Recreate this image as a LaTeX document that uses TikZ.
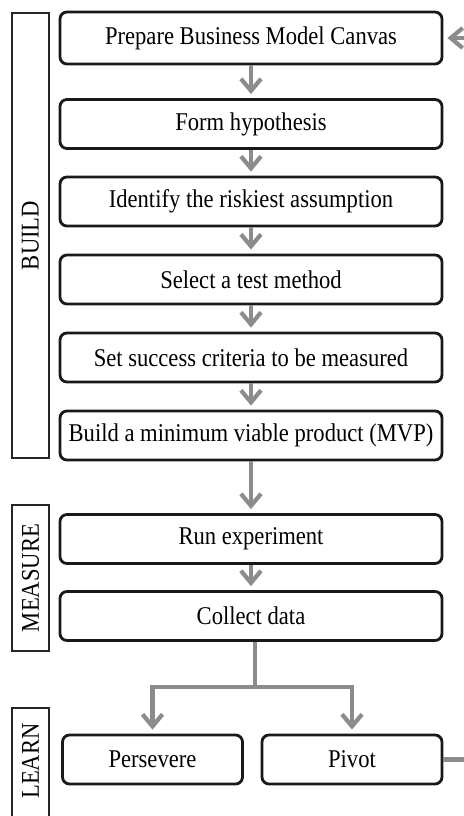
\documentclass[tikz,border=0pt]{standalone}
\usepackage{fontspec}
\setmainfont{Liberation Serif}
\usetikzlibrary{arrows.meta}
\newcommand{\tall}[1]{\scalebox{1}[1.13]{#1}}
\begin{document}
\begin{tikzpicture}[x=0.5pt,y=-0.5pt,
  every node/.style={font=\fontsize{11.3}{13}\selectfont, inner sep=0pt},
  stepbox/.style={draw=black!90, line width=1.4pt, rounded corners=3.5pt, minimum width=191pt, minimum height=24.5pt},
  smallbox/.style={stepbox, minimum width=90pt},
  sidebox/.style={draw=black!85, line width=0.8pt, rotate=90, minimum height=18.5pt},
  conn/.style={draw=black!45, line width=2.1pt},
  arr/.style={conn, -{Straight Barb[length=6pt,width=10pt,line width=2.1pt]}, shorten >=2pt}
]
\useasboundingbox (0,0) rectangle (464,816);
\clip (0,0) rectangle (464,816);

\node[stepbox, minimum height=26pt] (prep) at (251,38) {\tall{Prepare Business Model Canvas}};
\node[stepbox] (form) at (251,124) {\tall{Form hypothesis}};
\node[stepbox] (ident) at (251,201.5) {\tall{Identify the riskiest assumption}};
\node[stepbox] (sel) at (251,279.5) {\tall{Select a test method}};
\node[stepbox] (succ) at (251,357.5) {\tall{Set success criteria to be measured}};
\node[stepbox] (mvp) at (251,435.5) {\tall{Build a minimum viable product (MVP)}};
\node[stepbox] (run) at (251,539) {\tall{Run experiment}};
\node[stepbox] (coll) at (251,616) {\tall{Collect data}};
\node[smallbox] (pers) at (152.5,759.5) {\tall{Persevere}};
\node[smallbox] (pivot) at (352,759.5) {\tall{Pivot}};

\node[sidebox, minimum width=222.5pt] (build) at (30.5,235.5) {\tall{BUILD}};
\node[sidebox, minimum width=73pt] (measure) at (30.5,578) {\tall{MEASURE}};
\draw[draw=black!85, line width=0.8pt] (12,708) rectangle (49,840);
\node[rotate=90] (learn) at (30.5,761) {\tall{LEARN}};

\draw[arr] (prep) -- (form);
\draw[arr] (form) -- (ident);
\draw[arr] (ident) -- (sel);
\draw[arr] (sel) -- (succ);
\draw[arr] (succ) -- (mvp);
\draw[arr] (mvp) -- (run);
\draw[arr] (run) -- (coll);

\coordinate (j) at (255,687);
\draw[conn] (coll.south -| j) -- (j);
\draw[arr] (j) -| (pers.north);
\draw[arr] (j) -| (pivot.north);

\coordinate (loop) at (500,0);
\draw[arr] (pivot.east) -- (pivot.east -| loop) |- (prep.east);
\end{tikzpicture}
\end{document}
